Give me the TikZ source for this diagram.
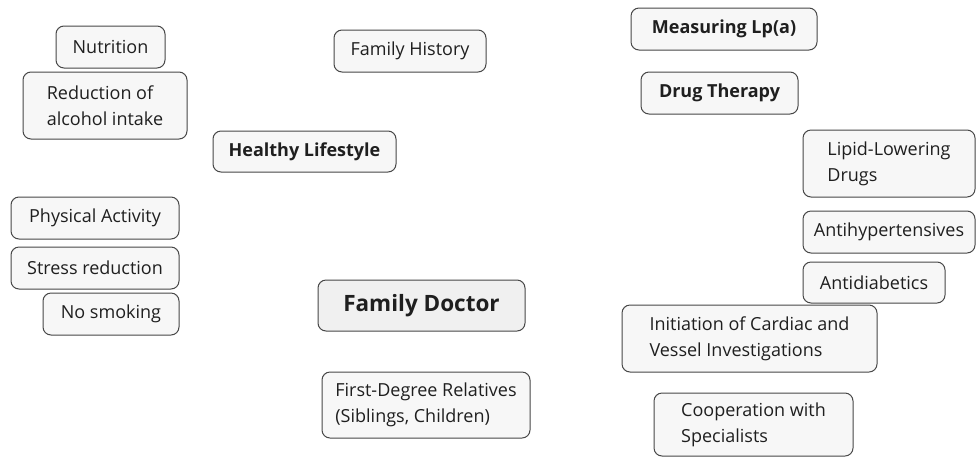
\documentclass[tikz,border=0pt]{standalone}
\usepackage{fontspec}
\setmainfont{Open Sans}
\tikzset{
  box/.style={draw=black!72, fill=black!3, rounded corners=8pt, line width=1pt, inner sep=0pt,
    font=\fontsize{18}{26}\selectfont, text=black!88},
  bbox/.style={box, font=\fontsize{18}{26}\selectfont\bfseries},
  multi/.style={box, align=left},
}
\begin{document}
\begin{tikzpicture}[x=1pt,y=-1pt]
\useasboundingbox (0,0) rectangle (976,456);
\node[box, minimum width=109, minimum height=42] (nutr) at (110.5,47) {Nutrition};
\node[multi, minimum width=164, minimum height=67] (alc) at (105,105.5) {Reduction of\\alcohol intake};
\node[box, minimum width=152, minimum height=42] (fh) at (410,51) {Family History};
\node[bbox, minimum width=183, minimum height=41] (hl) at (304.5,151.5) {Healthy Lifestyle};
\node[bbox, minimum width=186, minimum height=42] (lpa) at (724,29) {Measuring Lp(a)};
\node[bbox, minimum width=157, minimum height=42] (dt) at (719.5,93) {Drug Therapy};
\node[multi, minimum width=172, minimum height=67] (lld) at (889,163.5) {Lipid-Lowering\\Drugs};
\node[box, minimum width=172, minimum height=42] (ah) at (889,232) {Antihypertensives};
\node[box, minimum width=142, minimum height=41] (ad) at (874,282.5) {Antidiabetics};
\node[box, minimum width=168, minimum height=42] (pa) at (95,218) {Physical Activity};
\node[box, minimum width=168, minimum height=42] (sr) at (95,268) {Stress reduction};
\node[box, minimum width=136, minimum height=42] (ns) at (111,314) {No smoking};
\node[box, fill=black!6, font=\fontsize{22.5}{26}\selectfont\bfseries, minimum width=207, minimum height=51] (fd) at (421.5,305.5) {Family Doctor};
\node[multi, minimum width=208, minimum height=66] (fdr) at (426,405) {First-Degree Relatives\\(Siblings, Children)};
\node[multi, minimum width=255, minimum height=67] (init) at (749.5,338.5) {Initiation of Cardiac and\\Vessel Investigations};
\node[multi, minimum width=199, minimum height=63] (coop) at (753.5,424.5) {Cooperation with\\Specialists};
\end{tikzpicture}
\end{document}
